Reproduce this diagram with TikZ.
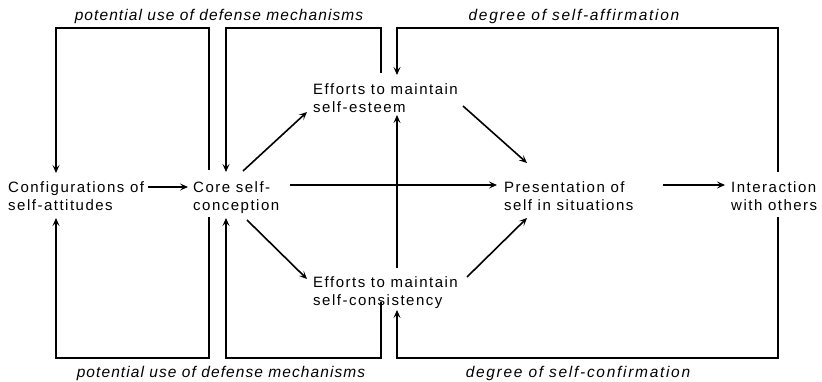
\documentclass[tikz,border=0pt]{standalone}
\usepackage{fontspec}
\setmainfont{Liberation Sans}
\newfontfamily\bodyfont[LetterSpace=10]{Liberation Sans}
\newfontfamily\notefont[LetterSpace=11]{Liberation Sans}
\newfontfamily\widenotefont[LetterSpace=7]{Liberation Sans}
\usetikzlibrary{arrows.meta}
\begin{document}
\begin{tikzpicture}[x=1pt,y=-1pt,
  line/.style={line width=1.6pt},
  arr/.style={line, -{Stealth[length=8pt,width=7pt,inset=3.5pt]}},
  concept/.style={inner sep=0pt, align=left, anchor=base west,
    font=\bodyfont\fontsize{15}{17.5}\selectfont},
  note/.style={inner sep=0pt, anchor=base,
    font=\notefont\itshape\fontsize{15.5}{18}\selectfont},
  longnote/.style={note, font=\widenotefont\itshape\fontsize{15.5}{18}\selectfont}]
\useasboundingbox (0,0) rectangle (822,382);

% concepts (anchored at the baseline of the last line)
\node[concept] (cfg)   at (8,210.5)   {Configurations of\\self-attitudes};
\node[concept] (core)  at (193,210.5) {Core self-\\conception};
\node[concept] (est)   at (313,112.5) {Efforts to maintain\\self-esteem};
\node[concept] (cons)  at (313,305)   {Efforts to maintain\\self-consistency};
\node[concept] (pres)  at (504,210.5) {Presentation of\\self in situations};
\node[concept] (inter) at (731,210.5) {Interaction\\with others};

% feedback labels
\node[longnote] (defTop) at (219,21)  {potential use of defense mechanisms};
\node[longnote] (defBot) at (221,377) {potential use of defense mechanisms};
\node[note] (affirm) at (574,21)  {degree of self-affirmation};
\node[note] (confirm) at (578,377) {degree of self-confirmation};

% connector end points
\coordinate (cfgR)   at (148,187);
\coordinate (coreL)  at (188,187);
\coordinate (coreR)  at (290,185);
\coordinate (presL)  at (497,185);
\coordinate (presR)  at (663,185);
\coordinate (interL) at (725,185);
\coordinate (coreNE) at (243,171);
\coordinate (estSW)  at (307,112);
\coordinate (coreSE) at (247,220);
\coordinate (consNW) at (307,279);
\coordinate (estSE)  at (463,106);
\coordinate (presNW) at (527,163);
\coordinate (consNE) at (467,277);
\coordinate (presSW) at (527,218);
\coordinate (consN)  at (397,268);
\coordinate (estS)   at (397,115);

% loop end points
\coordinate (cfgTop)   at (56,173);
\coordinate (cfgBot)   at (56,218);
\coordinate (coreTopA) at (209,170);
\coordinate (coreBotA) at (209,217);
\coordinate (coreTopB) at (226,172);
\coordinate (coreBotB) at (226,218);
\coordinate (estTopA)  at (381,73);
\coordinate (estTopB)  at (397,75);
\coordinate (consBotA) at (381,302);
\coordinate (consBotB) at (397,310);
\coordinate (interTop) at (778,172);
\coordinate (interBot) at (778,217);

% main flow
\draw[arr] (cfgR) -- (coreL);
\draw[arr] (coreR) -- (presL);
\draw[arr] (presR) -- (interL);
\draw[arr] (coreNE) -- (estSW);
\draw[arr] (coreSE) -- (consNW);
\draw[arr] (estSE) -- (presNW);
\draw[arr] (consNE) -- (presSW);
\draw[arr] (consN) -- (estS);

% feedback loops above
\draw[arr] (coreTopA) -- ++(0,-142) -| (cfgTop);
\draw[arr] (estTopA) -- ++(0,-45) -| (coreTopB);
\draw[arr] (interTop) -- ++(0,-144) -| (estTopB);

% feedback loops below
\draw[arr] (coreBotA) -- ++(0,141) -| (cfgBot);
\draw[arr] (consBotA) -- ++(0,56) -| (coreBotB);
\draw[arr] (interBot) -- ++(0,141) -| (consBotB);
\end{tikzpicture}
\end{document}
